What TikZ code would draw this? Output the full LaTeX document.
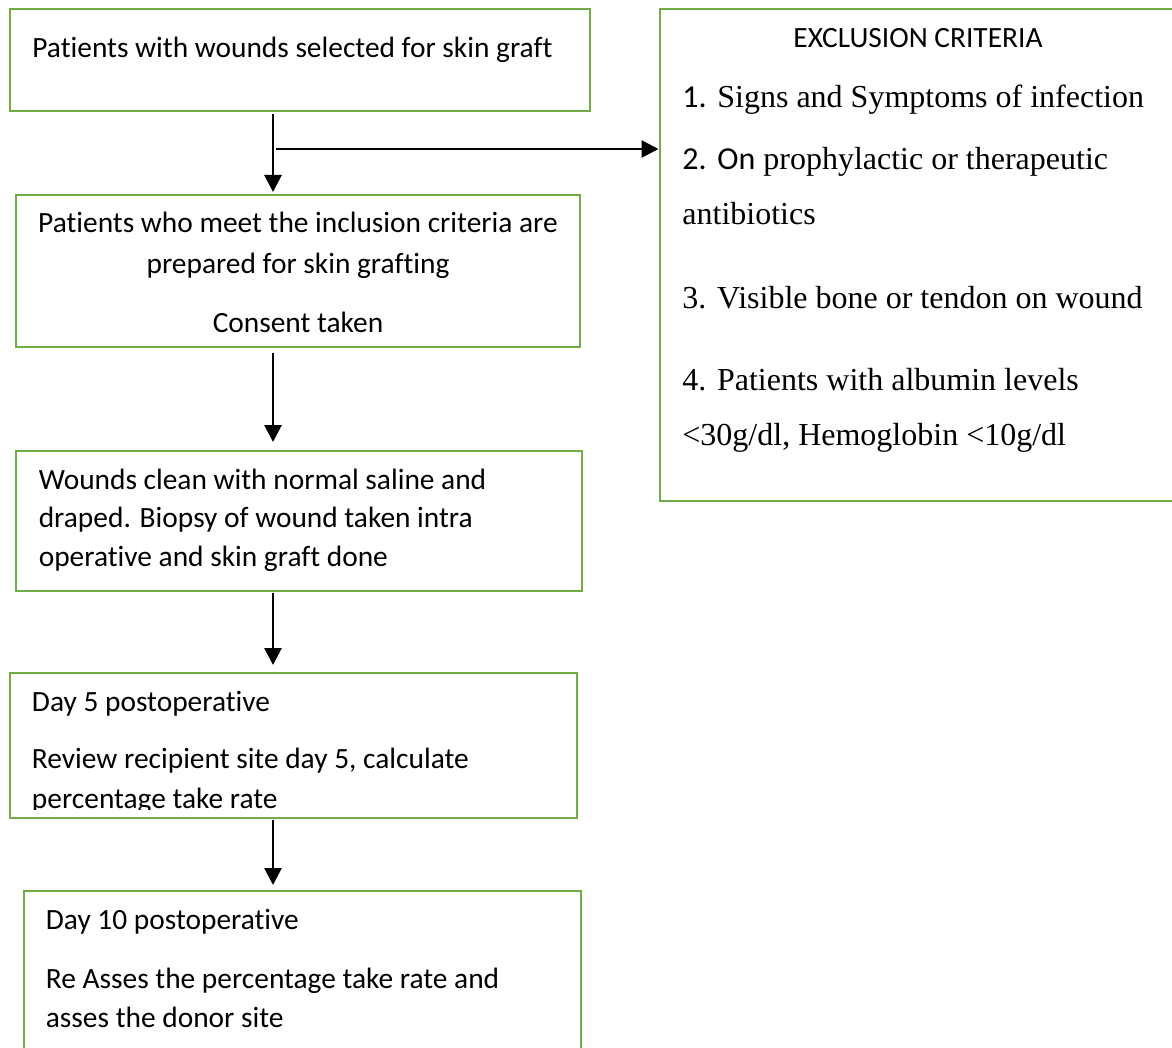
\documentclass[tikz,border=0pt]{standalone}
\usepackage{fontspec}
\setmainfont[Ligatures=NoCommon]{Carlito}
\newfontfamily\calfont[Ligatures=NoCommon]{Carlito}
\newfontfamily\tnrfont{Liberation Serif}
\usetikzlibrary{arrows.meta,fit}
\definecolor{boxgreen}{RGB}{112,173,71}
\begin{document}
\begin{tikzpicture}[x=0.5pt,y=-0.5pt,
  gbox/.style={draw=boxgreen,line width=1pt,inner sep=0pt,rectangle},
  arr/.style={draw=black,line width=1.4pt,-{Triangle[length=8.5pt,width=8.5pt]}},
  cal/.style={font=\calfont\fontsize{14.7}{17}\selectfont,inner sep=0pt,anchor=base west},
  calc/.style={cal,anchor=base},
  tnr/.style={font=\tnrfont\fontsize{16}{19}\selectfont,inner sep=0pt,anchor=base west}]
\useasboundingbox (0,0) rectangle (1172,1048);
\fill[white] (0,0) rectangle (1172,1048);
\clip (0,0) rectangle (1172,1048);

% boxes
\node[gbox, fit={(9.5,9.5)(590,110.7)}] (b1) {};
\node[gbox, fit={(15.8,195)(580,347)}] (b2) {};
\node[gbox, fit={(15.8,451)(582,591)}] (b3) {};
\node[gbox, fit={(10,673)(576.5,818)}] (b4) {};
\node[gbox, fit={(23.7,891)(581,1070)}] (b5) {};
\node[gbox, fit={(659.5,9.5)(1180,501)}] (ex) {};

% connectors
\coordinate (ax) at (273,0);
\coordinate (br) at (275.5,149);
\draw[arr, shorten <=1pt, shorten >=1pt] (b1.south -| ax) -- (b2.north -| ax);
\draw[arr] (br) -- (ex.west |- br);
\draw[arr, shorten <=2.5pt, shorten >=4pt] (b2.south -| ax) -- (b3.north -| ax);
\draw[arr, shorten <=0.5pt, shorten >=3.5pt] (b3.south -| ax) -- (b4.north -| ax);
\draw[arr, shorten <=0.5pt, shorten >=2.5pt] (b4.south -| ax) -- (b5.north -| ax);

% texts
\node[cal] (t1) at (32,58) {Patients with wounds selected for skin graft};

\node[calc] (t2a) at (298,233) {Patients who meet the inclusion criteria are};
\node[calc] (t2b) at (298,273) {prepared for skin grafting};
\node[calc] (t2c) at (298,332) {Consent taken};

\node[cal] (t3a) at (38.4,489) {Wounds clean with normal saline and};
\node[cal] (t3b) at (38.4,527) {draped. Biopsy of wound taken intra};
\node[cal] (t3c) at (38.4,566) {operative and skin graft done};

\node[cal] (t4a) at (31.6,711) {Day 5 postoperative};
\node[cal] (t4b) at (31.6,768) {Review recipient site day 5, calculate};
\begin{scope}
\clip (10,673) rectangle (576.5,809);
\node[cal] (t4c) at (31.6,808) {percentage take rate};
\end{scope}

\node[cal] (t5a) at (45.5,929) {Day 10 postoperative};
\node[cal] (t5b) at (45.5,988) {Re Asses the percentage take rate and};
\node[cal] (t5c) at (45.5,1027) {asses the donor site};

\node[calc] (e0) at (918,48) {EXCLUSION CRITERIA};
\node[tnr] (e1) at (682,108) {{\calfont 1.} Signs and Symptoms of infection};
\node[tnr] (e2) at (682,170) {{\calfont 2.} {\calfont On} prophylactic or therapeutic};
\node[tnr] (e2b) at (682,225) {antibiotics};
\node[tnr] (e3) at (682,308) {3. Visible bone or tendon on wound};
\node[tnr] (e4) at (682,390) {4. Patients with albumin levels};
\node[tnr] (e4b) at (682,445) {<30g/dl, Hemoglobin <10g/dl};
\end{tikzpicture}
\end{document}
